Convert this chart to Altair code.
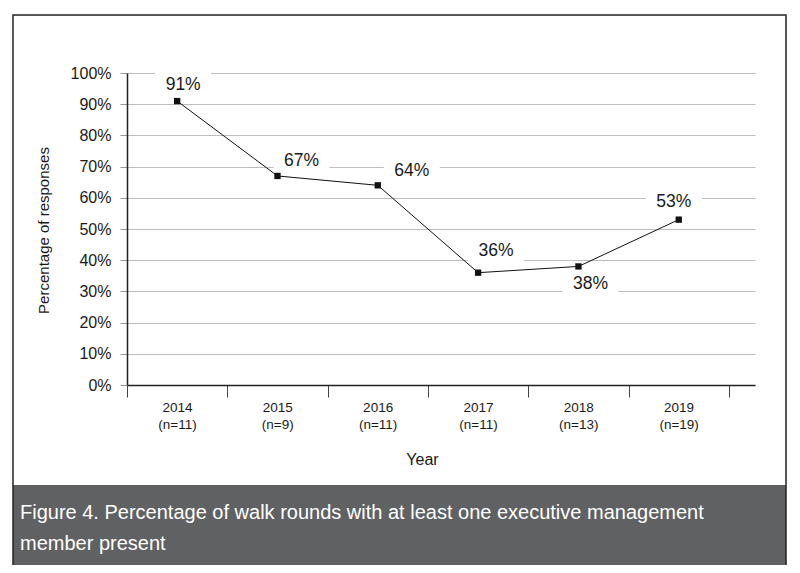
import json
import altair as alt
import pandas as pd

# ---- data ----
years = ["2014", "2015", "2016", "2017", "2018", "2019"]
n_counts = [11, 9, 11, 11, 13, 19]
percent = [91, 67, 64, 36, 38, 53]
y_ticks = [0, 10, 20, 30, 40, 50, 60, 70, 80, 90, 100]
caption_lines = [
    "Figure 4. Percentage of walk rounds with at least one executive management",
    "member present",
]

# label placement (pixel offsets of each value label from its point)
label_offsets = {
    "2014": (6, -16),
    "2015": (24, -15),
    "2016": (34, -14),
    "2017": (18, -22),
    "2018": (12, 18),
    "2019": (-5, -18),
}

FONT = "Liberation Sans, Arial, sans-serif"
TXT = "#1a1a1a"

df = pd.DataFrame({"year": years, "n": n_counts, "pct": percent, "idx": list(range(len(years)))})

year_js = json.dumps(years)
n_js = json.dumps([f"(n={v})" for v in n_counts])
x_label_expr = (
    f"datum.value < {len(years)} ? [{year_js}[datum.value], {n_js}[datum.value]] : ''"
)

x_enc = alt.X(
    "pos:Q",
    scale=alt.Scale(domain=[0, 6.26], nice=False, zero=False),
    axis=alt.Axis(
        values=list(range(len(years) + 1)),
        labelExpr=x_label_expr,
        labelOffset=50,
        labelFlush=False,
        labelOverlap=False,
        labelBound=False,
        labelFont=FONT,
        labelFontSize=13.5,
        labelColor=TXT,
        labelLineHeight=17,
        labelBaseline="top",
        labelPadding=3,
        tickSize=12,
        tickColor="#444",
        domainColor="#222",
        domainWidth=1.5,
        grid=False,
        title="Year",
        titleFont=FONT,
        titleFontSize=16,
        titleFontWeight="normal",
        titleColor=TXT,
        titleX=295,
        titleY=74,
        titleAlign="center",
        titleBaseline="middle",
    ),
)
y_enc = alt.Y(
    "pct:Q",
    scale=alt.Scale(domain=[0, 100], nice=False),
    axis=alt.Axis(
        values=y_ticks,
        labelExpr="datum.value + '%'",
        labelFont=FONT,
        labelFontSize=16,
        labelColor=TXT,
        labelPadding=9,
        tickSize=7,
        tickColor="#999",
        domainColor="#222",
        domainWidth=1.5,
        grid=True,
        gridColor="#bdbdbd",
        gridWidth=1,
        title="Percentage of responses",
        titleFont=FONT,
        titleFontSize=15,
        titleFontWeight="normal",
        titleColor=TXT,
        titleAngle=270,
        titleX=-84,
        titleY=157,
        titleAlign="center",
        titleBaseline="middle",
    ),
)

base = alt.Chart(df).transform_calculate(pos="datum.idx + 0.5")

box_shape = "M-1,-0.46L1,-0.46L1,0.46L-1,0.46Z"
boxes = []
texts = []
for yr in years:
    dx, dy = label_offsets[yr]
    sub = base.transform_filter(alt.datum.year == yr)
    boxes.append(
        sub.mark_point(
            shape=box_shape, size=3136, filled=True, fill="white", stroke=None,
            opacity=1, xOffset=dx, yOffset=dy,
        ).encode(x=x_enc, y=y_enc)
    )
    texts.append(
        sub.mark_text(
            font=FONT, fontSize=17.5, color=TXT, dx=dx, dy=dy,
            align="center", baseline="middle",
        ).encode(x=x_enc, y=y_enc, text=alt.Text("label:N"))
        .transform_calculate(label="datum.pct + '%'")
    )

line = base.mark_line(color="#111", strokeWidth=1).encode(x=x_enc, y=y_enc)
points = base.mark_point(shape="square", filled=True, size=40, color="#111", opacity=1).encode(
    x=x_enc, y=y_enc
)

one = alt.Chart(pd.DataFrame({"k": [0]}))
caption_band = one.mark_rect(fill="#606163", stroke=None).encode(
    x=alt.value(-114), x2=alt.value(659), y=alt.value(412), y2=alt.value(494)
)
frame = one.mark_rect(fill="white", fillOpacity=0, stroke="#222", strokeWidth=1.5).encode(
    x=alt.value(-114), x2=alt.value(659), y=alt.value(-58), y2=alt.value(494)
)
caption = one.mark_text(
    font=FONT, fontSize=20, color="white", align="left", baseline="alphabetic", lineHeight=31
).encode(x=alt.value(-107), y=alt.value(446), text=alt.value(caption_lines))

chart = (
    alt.layer(*boxes, line, points, *texts, caption_band, frame, caption)
    .properties(
        width=628,
        height=312,
        autosize=alt.AutoSizeParams(type="none"),
        padding={"left": 119, "top": 65, "right": 37, "bottom": 180},
        background="white",
    )
    .configure_view(stroke=None)
)

chart.save("out.html", embed_options={"renderer": "svg", "actions": False})
